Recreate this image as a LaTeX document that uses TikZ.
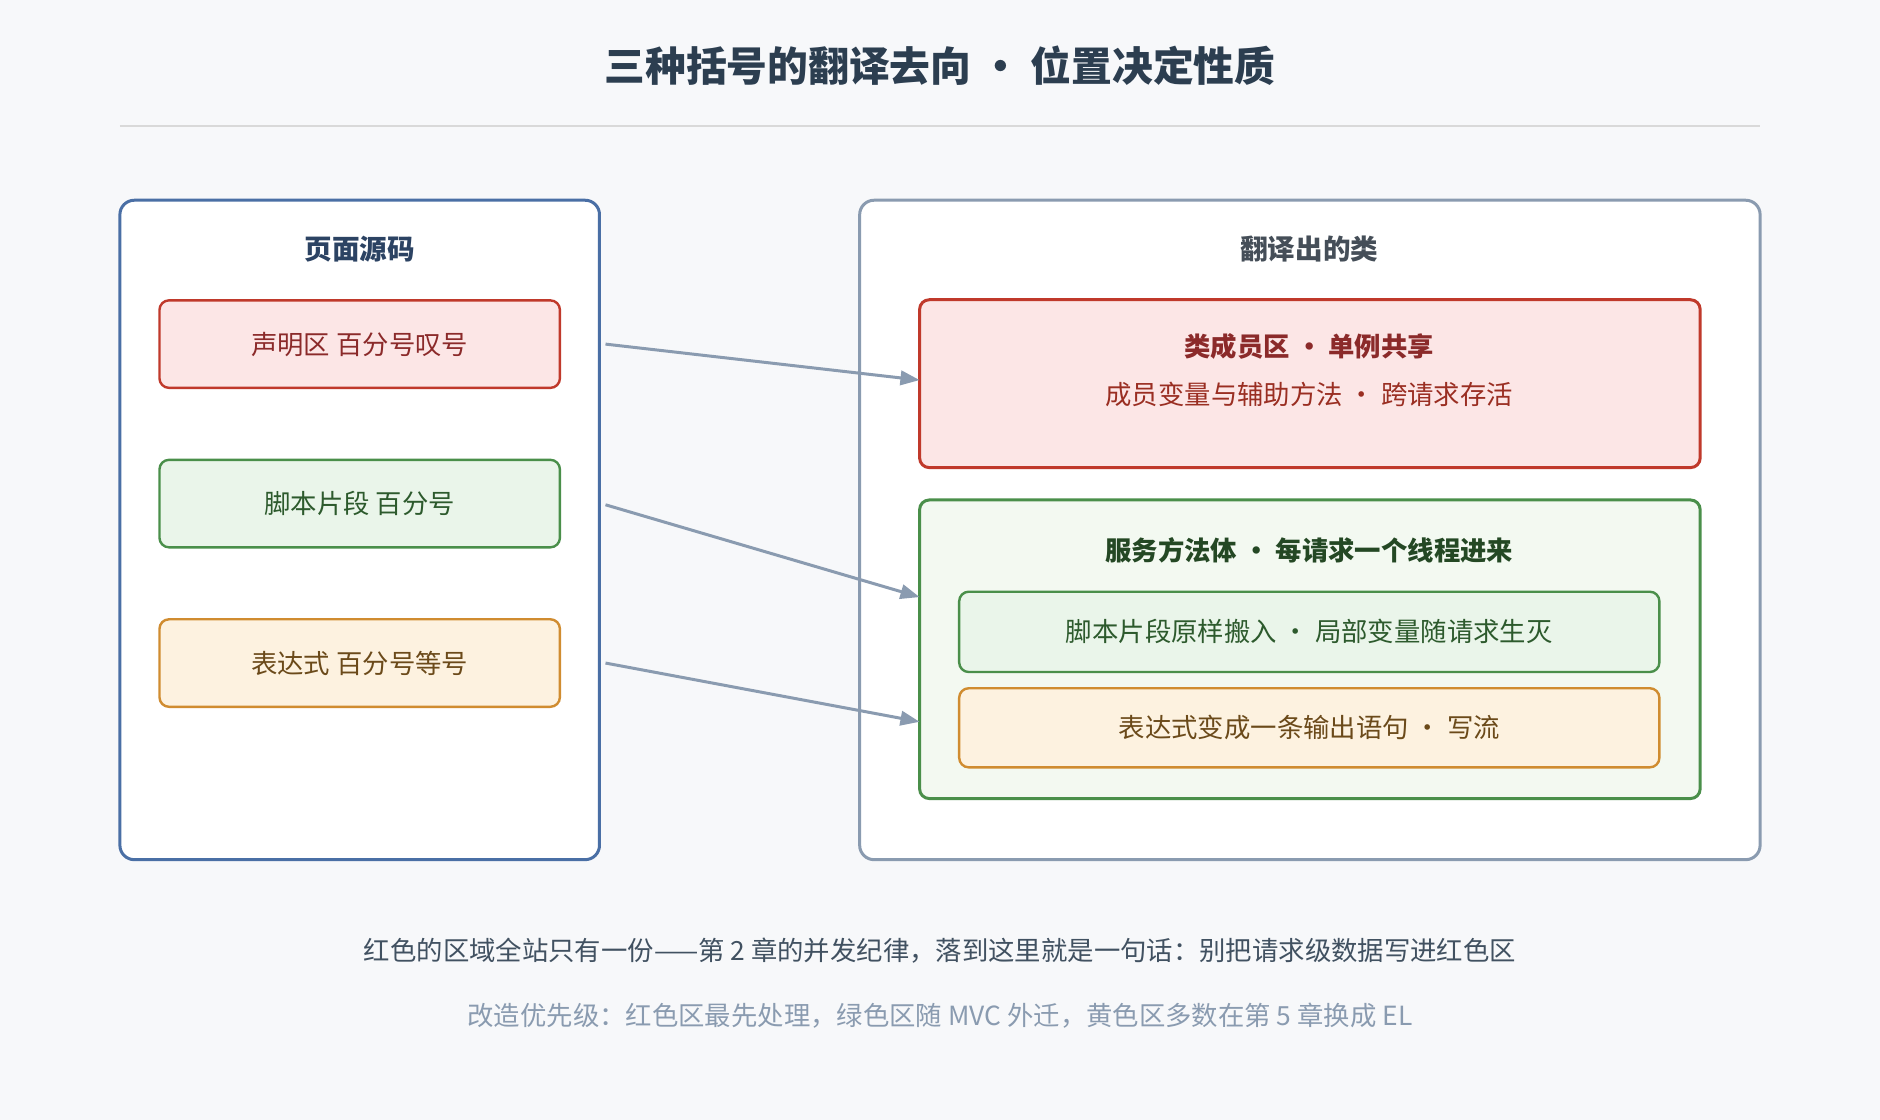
\documentclass[tikz,border=0pt]{standalone}
\usepackage{fontspec}
\setmainfont{Noto Sans CJK SC}
\usetikzlibrary{arrows.meta}
\definecolor{bg}{HTML}{F7F8FA}
\definecolor{ttl}{HTML}{2C3E50}
\definecolor{blueb}{HTML}{4A6FA5}
\definecolor{grayb}{HTML}{8A9BB0}
\definecolor{redb}{HTML}{C0392B}\definecolor{redf}{HTML}{FCE6E6}\definecolor{redt}{HTML}{8B2A2A}
\definecolor{grnb}{HTML}{4A8F4A}\definecolor{grnf}{HTML}{EAF5EA}\definecolor{grnt}{HTML}{2D5A2D}\definecolor{grnf2}{HTML}{F3F9F1}
\definecolor{orb}{HTML}{D08C30}\definecolor{orf}{HTML}{FDF2E0}\definecolor{ort}{HTML}{6B4A1A}
\tikzset{
 box/.style={draw,line width=2.5pt,rounded corners=12pt,inner sep=0pt},
 item/.style={draw,line width=2pt,rounded corners=8pt,inner sep=0pt,font=\fontsize{22}{26}\selectfont},
 red/.style={fill=redf,draw=redb,text=redt},
 grn/.style={fill=grnf,draw=grnb,text=grnt},
 org/.style={fill=orf,draw=orb,text=ort},
 arr/.style={draw=grayb,line width=2.5pt,-{Triangle[length=16pt,width=12pt]}},
}
\newcommand{\md}{\,·\,}
\begin{document}
\begin{tikzpicture}[x=1pt,y=-1pt]
\fill[bg] (0,0) rectangle (1568,934);
\useasboundingbox (0,0) rectangle (1568,934);
\node[text=ttl,font=\fontsize{34}{40}\selectfont\bfseries] (title) at (784,55) {三种括号的翻译去向 • 位置决定性质};
\draw[line width=1.2pt,draw=black!15] (100,105) -- (1468,105);
% left
\draw[box,draw=blueb,fill=white] (100,167) rectangle (500,717);
\node[text=blueb!60!black,font=\fontsize{23}{27}\selectfont\bfseries] (lt) at (300,208) {页面源码};
\node[item,red,minimum width=334pt,minimum height=73pt] (a) at (300,287) {声明区 百分号叹号};
\node[item,grn,minimum width=334pt,minimum height=73pt] (b) at (300,420) {脚本片段 百分号};
\node[item,org,minimum width=334pt,minimum height=73pt] (c) at (300,553) {表达式 百分号等号};
% right
\draw[box,draw=grayb,fill=white] (717,167) rectangle (1468,717);
\node[text=grayb!50!black,font=\fontsize{23}{27}\selectfont\bfseries] (rt) at (1092,208) {翻译出的类};
\node[item,red,line width=2.5pt,minimum width=651pt,minimum height=140pt] (m) at (1092.5,320) {};
\node[text=redt,font=\fontsize{22}{26}\selectfont\bfseries] (m1) at (1092,289) {类成员区 • 单例共享};
\node[text=redb!80!black,font=\fontsize{22}{26}\selectfont] (m2) at (1092,329) {成员变量与辅助方法 · 跨请求存活};
\node[item,fill=grnf2,draw=grnb,line width=2.5pt,minimum width=651pt,minimum height=249pt] (s) at (1092.5,541.5) {};
\node[text=grnt!80!black,font=\fontsize{22}{26}\selectfont\bfseries] (s1) at (1092,459) {服务方法体 • 每请求一个线程进来};
\node[item,grn,minimum width=584pt,minimum height=67pt] (s2) at (1092,527) {脚本片段原样搬入 · 局部变量随请求生灭};
\node[item,org,minimum width=584pt,minimum height=66pt] (s3) at (1092,607) {表达式变成一条输出语句 · 写流};
% arrows
\coordinate (a0) at (505,287); \coordinate (a1) at (767,317);
\coordinate (b0) at (505,421); \coordinate (b1) at (767,498);
\coordinate (c0) at (505,553); \coordinate (c1) at (767,602);
\draw[arr] (a0) -- (a1);
\draw[arr] (b0) -- (b1);
\draw[arr] (c0) -- (c1);
% footer
\node[text=ttl!90,font=\fontsize{22}{26}\selectfont] (f1) at (784,793) {红色的区域全站只有一份——第 2 章的并发纪律，落到这里就是一句话：别把请求级数据写进红色区};
\node[text=grayb,font=\fontsize{22}{26}\selectfont] (f2) at (784,847) {改造优先级：红色区最先处理，绿色区随 MVC 外迁，黄色区多数在第 5 章换成 EL};
\end{tikzpicture}
\end{document}
